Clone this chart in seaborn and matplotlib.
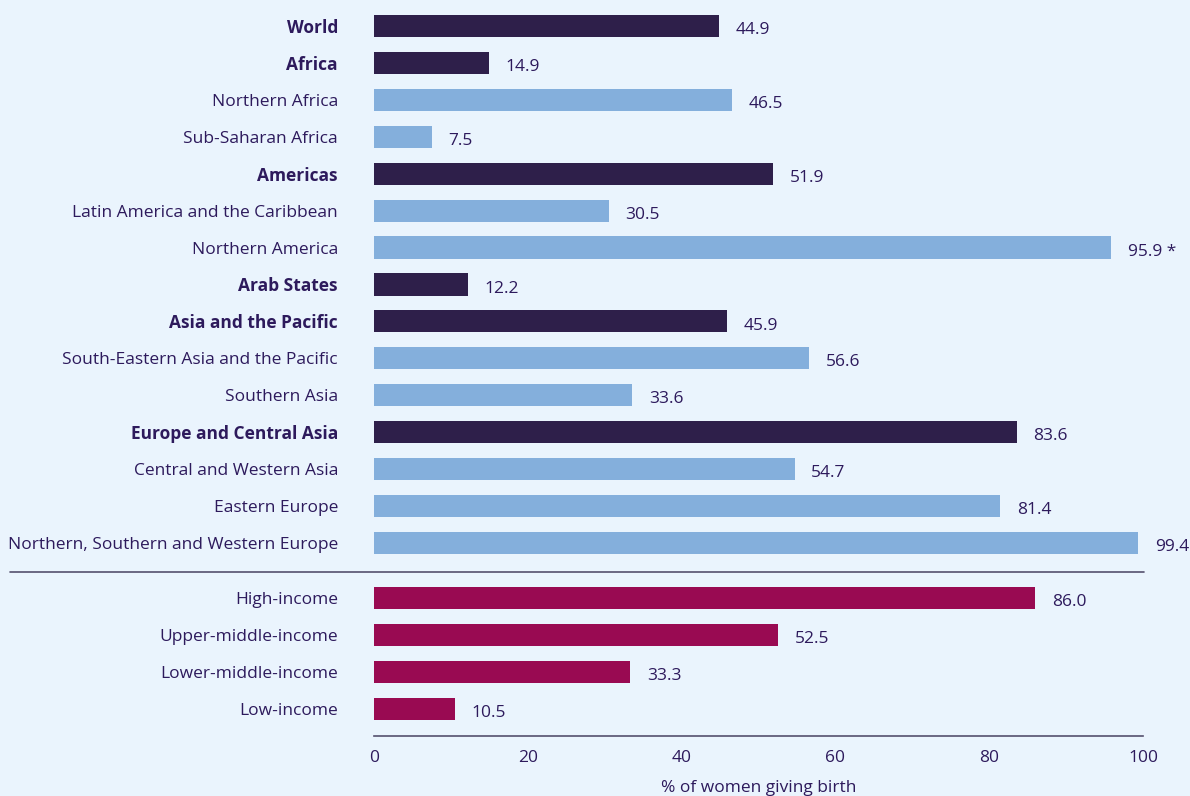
import matplotlib
matplotlib.use("Agg")
import matplotlib.pyplot as plt
import matplotlib.transforms as mtransforms
import seaborn as sns
import pandas as pd

# Share of women giving birth, by region and income group (%)
regions = [
    "World", "Africa", "Northern Africa", "Sub-Saharan Africa", "Americas",
    "Latin America and the Caribbean", "Northern America", "Arab States",
    "Asia and the Pacific", "South-Eastern Asia and the Pacific", "Southern Asia",
    "Europe and Central Asia", "Central and Western Asia", "Eastern Europe",
    "Northern, Southern and Western Europe",
]
region_values = [44.9, 14.9, 46.5, 7.5, 51.9, 30.5, 95.9, 12.2, 45.9, 56.6,
                 33.6, 83.6, 54.7, 81.4, 99.4]
region_groups = ["aggregate", "aggregate", "sub", "sub", "aggregate", "sub", "sub",
                 "aggregate", "aggregate", "sub", "sub", "aggregate", "sub", "sub", "sub"]

income_levels = ["High-income", "Upper-middle-income", "Lower-middle-income", "Low-income"]
income_values = [86.0, 52.5, 33.3, 10.5]

value_notes = {"Northern America": " *"}

BG = "#EAF4FD"
TEXT = "#2D1A5C"
FS = 12.5
palette = {"aggregate": "#2E1F4A", "sub": "#84AFDC", "income": "#990A52"}

# Row positions: regions on consecutive rows, income groups after a half-row gap
region_pos = list(range(len(regions)))
income_pos = [len(regions) + 0.5 + i for i in range(len(income_levels))]

df = pd.DataFrame({
    "label": regions + income_levels,
    "value": region_values + income_values,
    "group": region_groups + ["income"] * len(income_levels),
    "pos": region_pos + income_pos,
})

sns.set_theme(style="white")
plt.rcParams["font.family"] = ["Open Sans", "DejaVu Sans"]

fig = plt.figure(figsize=(11.9, 7.96), dpi=100, facecolor=BG)
ax = fig.add_axes([0.3143, 0.0754, 0.6462, 0.9198])
ax.set_facecolor(BG)

sns.barplot(data=df, x="value", y="pos", hue="group", palette=palette,
            orient="h", native_scale=True, dodge=False, width=0.6,
            legend=False, saturation=1, linewidth=0, edgecolor="none", ax=ax)

ax.set_xlim(0, 100)
ax.set_ylim(len(regions) + 0.5 + len(income_levels) - 1 + 0.73, -0.6)

ax.set_yticks(df["pos"])
ax.set_yticklabels(df["label"])
for lbl, grp in zip(ax.get_yticklabels(), df["group"]):
    lbl.set_color(TEXT)
    lbl.set_fontsize(FS)
    if grp == "aggregate":
        lbl.set_fontweight("bold")
ax.tick_params(axis="y", length=0, pad=26)

ax.set_xticks([0, 20, 40, 60, 80, 100])
ax.tick_params(axis="x", length=0, pad=10, labelsize=FS, labelcolor=TEXT)
ax.set_ylabel("")
ax.set_xlabel("% of women giving birth", fontsize=FS, color=TEXT, labelpad=10)

for side in ["top", "right", "left"]:
    ax.spines[side].set_visible(False)
ax.spines["bottom"].set_color("#55506E")
ax.spines["bottom"].set_linewidth(1.2)

# Value labels at the end of each bar
for _, row in df.iterrows():
    ax.annotate(f"{row['value']:.1f}" + value_notes.get(row["label"], ""),
                xy=(row["value"], row["pos"]), xytext=(12, -3),
                textcoords="offset points", va="center", ha="left",
                fontsize=FS, color=TEXT)

# Divider between regions and income groups
sep_y = len(regions) - 1 + 0.78
trans = mtransforms.blended_transform_factory(fig.transFigure, ax.transData)
ax.plot([10 / 1190, 1144 / 1190], [sep_y, sep_y], transform=trans,
        color="#55506E", lw=1.2, clip_on=False)

fig.savefig("out.png", dpi=100, facecolor=BG)
